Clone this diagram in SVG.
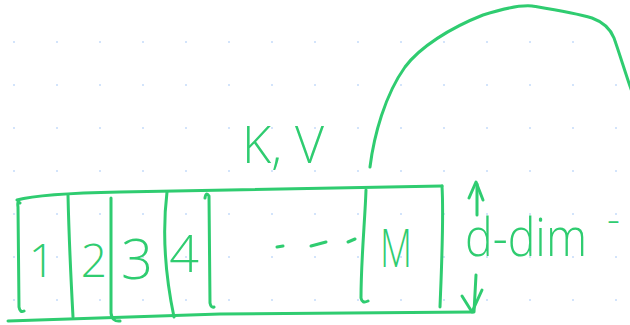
<svg xmlns="http://www.w3.org/2000/svg" width="630" height="325" viewBox="0 0 630 325">
  <defs>
    <pattern id="dots" x="0" y="0" width="43" height="43" patternUnits="userSpaceOnUse">
      <rect x="13" y="41" width="2" height="2" fill="#d3e4fb"/>
    </pattern>
    <style>
      .ink { fill: none; stroke: #2fcc70; stroke-width: 3; stroke-linecap: round; stroke-linejoin: round; }
      .hand { fill: #2fcc70; font-family: "Open Sans", "Liberation Sans", sans-serif; font-weight: 300; }
    </style>
  </defs>

  <!-- dotted canvas -->
  <rect width="630" height="325" fill="#ffffff"/>
  <rect width="630" height="325" fill="url(#dots)"/>

  <!-- key/value cache strip -->
  <g id="strip">
    <path class="ink" d="M17,200 C35,195 70,193 120,192 L442,186"/>
    <path class="ink" d="M8,321 L220,314 L473,312"/>
    <path class="ink" d="M20,203 Q17,200 18,207 L19,307 Q20,313 24,311"/>
    <path class="ink" d="M442,186 C444,220 441,280 440,307"/>
  </g>

  <g id="slot-1">
    <path class="ink" d="M68,195 C69,240 71,280 73,317"/>
    <text class="hand" x="42" y="277" font-size="46" text-anchor="middle">1</text>
  </g>
  <g id="slot-2">
    <path class="ink" d="M111,198 L111,313 Q112,322 120,321"/>
    <text class="hand" x="94" y="277" font-size="46" text-anchor="middle">2</text>
  </g>
  <g id="slot-3">
    <path class="ink" d="M167,192 Q160,250 174,317"/>
    <text class="hand" x="137" y="279" font-size="56" text-anchor="middle">3</text>
  </g>
  <g id="slot-4">
    <path class="ink" d="M205,198 Q206,191 209,196 L210,303 Q211,308 214,307"/>
    <text class="hand" x="184" y="272" font-size="52" text-anchor="middle">4</text>
  </g>

  <!-- ellipsis between slot 4 and slot M -->
  <g id="ellipsis">
    <path class="ink" d="M277,247 L283,246"/>
    <path class="ink" d="M311,246 L326,242"/>
    <path class="ink" d="M348,242 L355,239"/>
  </g>

  <g id="slot-M">
    <path class="ink" d="M366,190 C365,220 361,260 361,298 Q362,304 368,301"/>
    <text class="hand" x="396" y="267" font-size="54" text-anchor="middle" textLength="32" lengthAdjust="spacingAndGlyphs">M</text>
  </g>

  <g id="label-kv">
    <text class="hand" x="283" y="163" font-size="52" text-anchor="middle" textLength="82" lengthAdjust="spacingAndGlyphs">K, V</text>
  </g>

  <!-- height dimension -->
  <g id="dim">
    <path class="ink" d="M477,215 L477,184"/>
    <path class="ink" d="M469,198 L476,182 L483,200"/>
    <path class="ink" d="M476,275 L474,312"/>
    <path class="ink" d="M462,296 L472,312 L482,290"/>
    <text class="hand" x="465" y="256" font-size="54" textLength="122" lengthAdjust="spacingAndGlyphs">d-dim</text>
    <text class="hand" x="607" y="233" font-size="40">-</text>
  </g>

  <!-- connectors -->
  <g id="connectors">
    <path class="ink" d="M370,167 C374,135 385,95 405,67 C420,47 450,28 483,15 C505,8 520,5 532,6 C550,9 575,13 592,18 C603,22 610,28 614,38 C620,55 625,72 632,92"/>
  </g>
</svg>
